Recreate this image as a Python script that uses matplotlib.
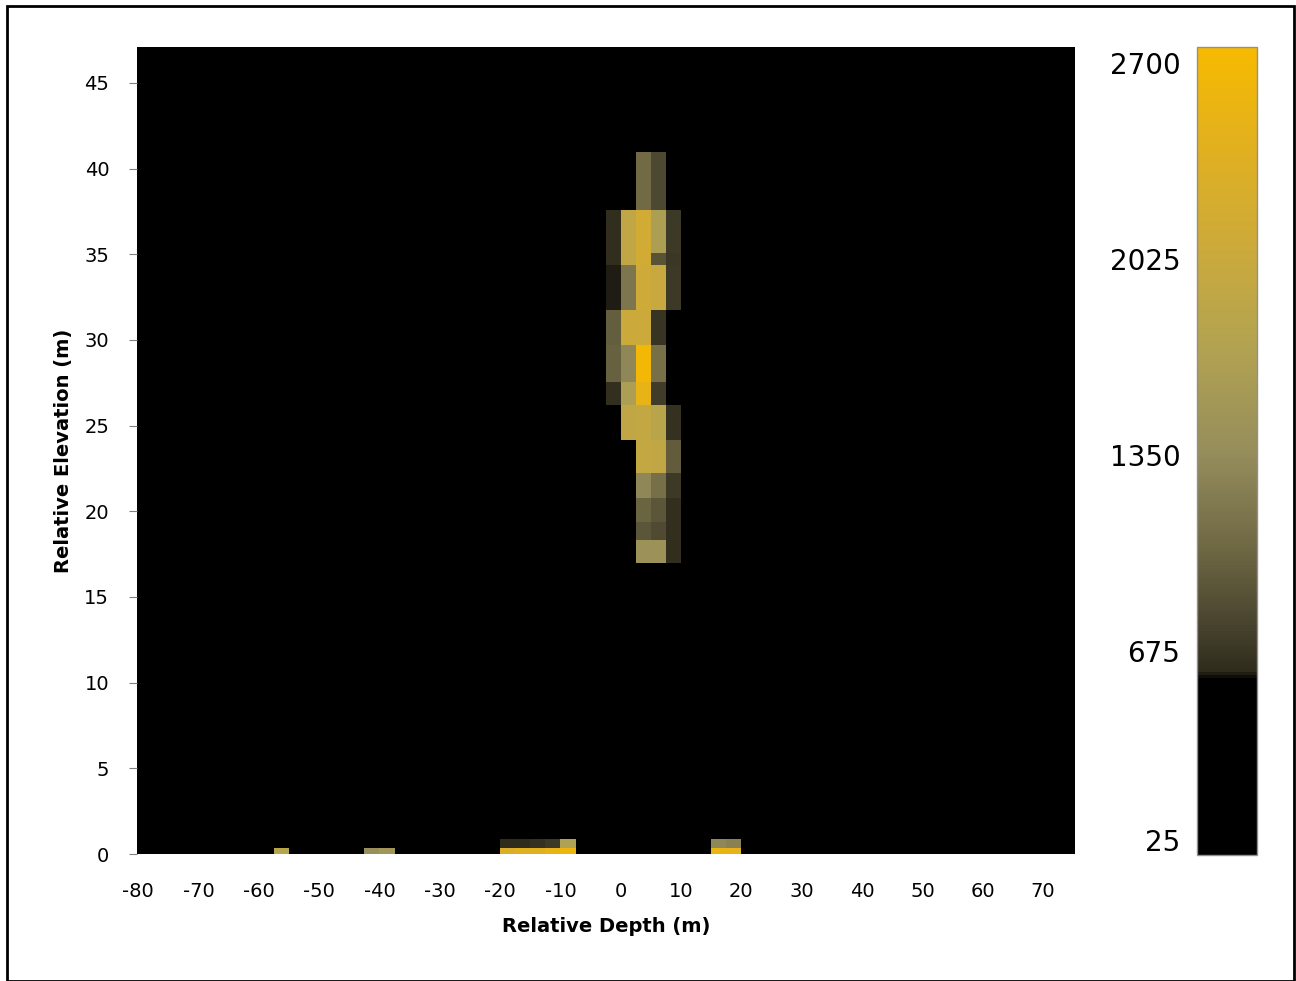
import numpy as np
import matplotlib
matplotlib.use("Agg")
import matplotlib.pyplot as plt
from matplotlib.colors import LinearSegmentedColormap, Normalize
from matplotlib.patches import Rectangle

plt.rcParams["axes.unicode_minus"] = False

# column of strong returns (2.5 m wide cells, uneven elevation bins)
col_x_edges = [-2.5, 0, 2.5, 5, 7.5, 10]
col_y_edges = [16.97, 18.33, 19.39, 20.76, 22.22, 24.16, 26.2, 27.57,
               29.71, 31.75, 34.4, 35.06, 37.58, 40.95]
col_values = [
    [100, 100, 1450, 1450, 620],
    [100, 100, 900, 820, 630],
    [100, 100, 1000, 900, 630],
    [100, 100, 1300, 1100, 700],
    [100, 100, 1950, 1900, 950],
    [100, 1900, 1950, 1800, 640],
    [630, 1650, 2500, 720, 100],
    [980, 1300, 2700, 1100, 100],
    [960, 2050, 2050, 660, 100],
    [600, 1150, 2100, 2000, 700],
    [620, 1900, 2150, 880, 680],
    [620, 1900, 2150, 1650, 700],
    [100, 100, 1050, 800, 100],
]

# small patches at ground level
bot_x_edges = [-57.5, -55, -42.5, -40, -37.5, -20, -17.5, -15, -12.5,
               -10, -7.5, 15, 17.5, 20]
bot_y_edges = [0, 0.35, 0.9]
bot_values = [
    [1800, np.nan, 1400, 1500, np.nan, 2300, 2400, 2400, 2500, 2600, np.nan, 2550, 2500],
    [np.nan, np.nan, np.nan, np.nan, np.nan, 610, 610, 640, 700, 1700, np.nan, 1300, 1250],
]

cbar_ticks = [25, 675, 1350, 2025, 2700]
x_ticks = list(range(-80, 71, 10))
y_ticks = list(range(0, 46, 5))

vmin, vmax = -27, 2755
stops = [(vmin, "#000000"), (575, "#000000"), (605, "#2f2c1c"), (700, "#3e3a28"),
         (1000, "#6a6441"), (1350, "#958c5c"), (1700, "#b0a252"),
         (2025, "#c9a93e"), (2400, "#e0b020"), (vmax, "#f7ba00")]
cmap = LinearSegmentedColormap.from_list(
    "gold", [((v - vmin) / (vmax - vmin), c) for v, c in stops])
norm = Normalize(vmin=vmin, vmax=vmax)

fig = plt.figure(figsize=(12.96, 9.81), dpi=100)
ax = fig.add_axes([137 / 1296, 1 - 854 / 981, 938 / 1296, 807 / 981])
ax.set_facecolor("black")

mesh = ax.pcolormesh(col_x_edges, col_y_edges, np.array(col_values),
                     cmap=cmap, norm=norm, shading="flat")
ax.pcolormesh(bot_x_edges, bot_y_edges, np.ma.masked_invalid(np.array(bot_values)),
              cmap=cmap, norm=norm, shading="flat")

ax.set_xlim(-80.2, 75.3)
ax.set_ylim(0, 47.1)
ax.set_xticks(x_ticks)
ax.set_yticks(y_ticks)
for s in ax.spines.values():
    s.set_visible(False)
ax.tick_params(axis="x", length=0, pad=20, labelsize=14)
ax.tick_params(axis="y", length=6, color="#808080", pad=14, labelsize=14)
ax.set_xlabel("Relative Depth (m)", fontsize=14, fontweight="bold", labelpad=12)
ax.set_ylabel("Relative Elevation (m)", fontsize=14, fontweight="bold", labelpad=8)

cax = fig.add_axes([1197 / 1296, 1 - 855 / 981, 60 / 1296, 808 / 981])
cb = fig.colorbar(mesh, cax=cax, ticks=cbar_ticks)
cb.outline.set_edgecolor("#909090")
cb.outline.set_linewidth(1)
cax.yaxis.set_ticks_position("left")
cax.yaxis.set_label_position("left")
cax.tick_params(length=0, pad=12, labelsize=20)

fig.add_artist(Rectangle((7 / 1296, 0.5 / 981), 1287 / 1296, 975 / 981,
                         transform=fig.transFigure, fill=False,
                         edgecolor="black", linewidth=2))

fig.savefig("out.png", dpi=100)
